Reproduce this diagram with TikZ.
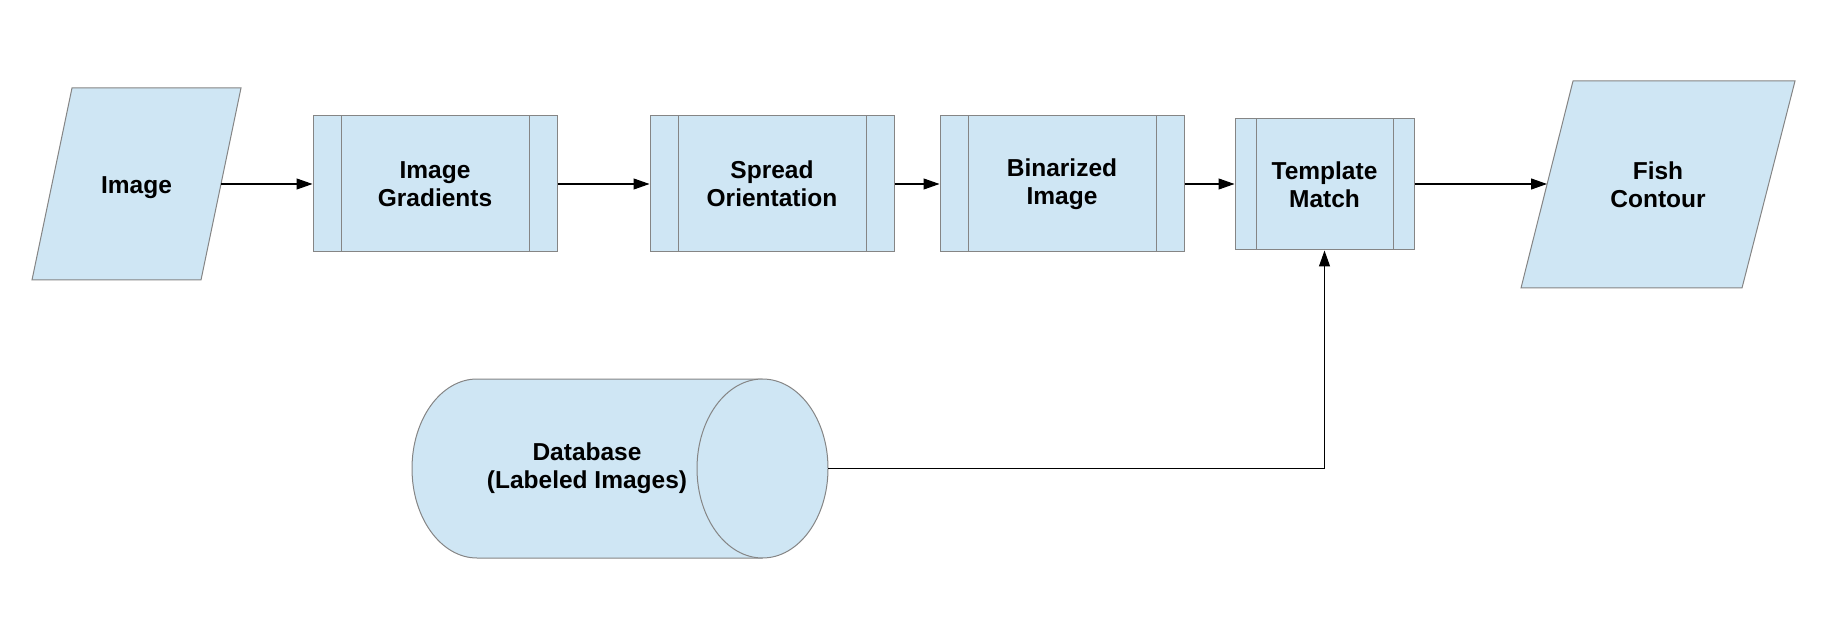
\documentclass[tikz,border=0pt]{standalone}
\usepackage{fontspec}
\setmainfont{Liberation Sans}
\usetikzlibrary{arrows.meta,calc}
\definecolor{boxfill}{HTML}{CFE6F4}
\definecolor{boxline}{HTML}{858585}
\tikzset{
  txt/.style={font=\bfseries\fontsize{24.5}{28}\selectfont, align=center, text=black},
  shapebox/.style={fill=boxfill, draw=boxline, line width=1pt},
  procbox/.style={shapebox, rectangle, inner sep=0pt, txt,
    path picture={
      \draw[boxline, line width=1pt] ([xshift=#1]path picture bounding box.north west) -- ([xshift=#1]path picture bounding box.south west);
      \draw[boxline, line width=1pt] ([xshift=-#1]path picture bounding box.north east) -- ([xshift=-#1]path picture bounding box.south east);
    }},
  arr/.style={draw=black, line width=1.1pt, -{Triangle[length=16pt,width=11pt]}},
}
\begin{document}
\begin{tikzpicture}[x=1pt,y=-1pt]
\useasboundingbox (0,0) rectangle (1839,636);

% Image parallelogram
\draw[shapebox] (72,88) -- (241,88) -- (201,280) -- (32,280) -- cycle;
\node[txt] (img) at (136.5,187.5) {Image};
\coordinate (imgE) at (221,184);

% process boxes
\node[procbox=28pt, minimum width=244pt, minimum height=136pt] (grad) at (435,184) {Image\\Gradients};
\node[procbox=28pt, minimum width=244pt, minimum height=136pt] (spread) at (772,184) {Spread\\Orientation};
\node[procbox=28pt, minimum width=244pt, minimum height=136pt] (bin) at (1062,184) {Binarized\\Image};
\node[procbox=21pt, minimum width=179pt, minimum height=131pt] (tm) at (1324.5,184.5) {Template\\Match};

% Fish Contour parallelogram
\draw[shapebox] (1573,81) -- (1795,81) -- (1742,288) -- (1521,288) -- cycle;
\node[txt] (fish) at (1658,184.5) {Fish\\Contour};
\coordinate (fishW) at (1547,184);

% Database cylinder
\fill[boxfill] (762.5,379) -- (477,379) arc[start angle=270, end angle=90, x radius=65, y radius=89.5] -- (762.5,558) -- cycle;
\draw[boxline, line width=1pt] (762.5,379) -- (477,379) arc[start angle=270, end angle=90, x radius=65, y radius=89.5] -- (762.5,558);
\draw[shapebox] (762.5,468.5) ellipse[x radius=65.5, y radius=89.5];
\node[txt] (db) at (587,468.5) {Database\\(Labeled Images)};
\coordinate (dbE) at (828,468.5);

% connectors
\draw[arr] (imgE) -- (grad.west);
\draw[arr] (grad.east) -- (spread.west);
\draw[arr] (spread.east) -- (bin.west);
\draw[arr] (bin.east) -- (tm.west |- bin.east);
\draw[arr] (tm.east |- fishW) -- (fishW);
\draw[arr] (dbE) -| (tm.south);
\end{tikzpicture}
\end{document}
